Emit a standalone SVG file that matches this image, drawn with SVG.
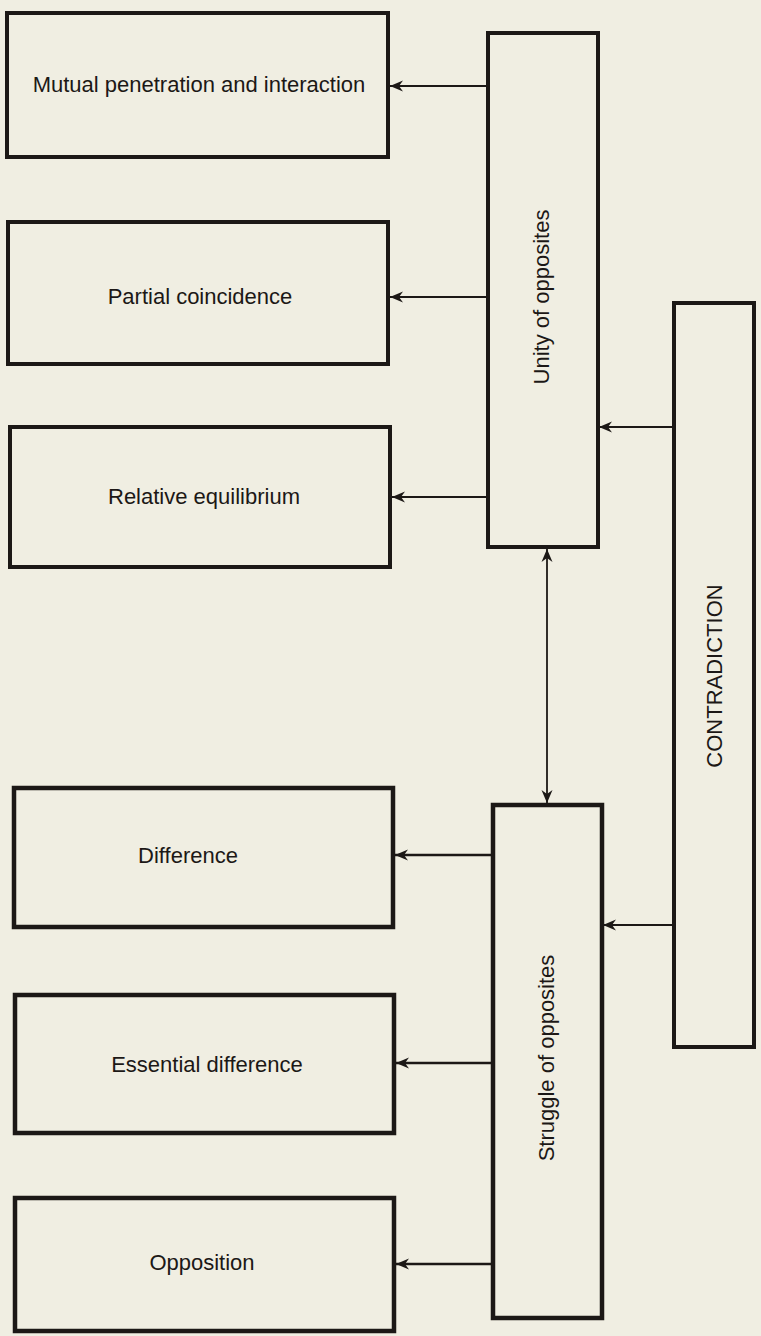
<svg xmlns="http://www.w3.org/2000/svg" width="761" height="1336" viewBox="0 0 761 1336">
<style>
.bg{fill:#f0eee2}
.box{fill:#f0eee2;stroke:#1c1816;stroke-width:4}
.boxb{fill:#f0eee2;stroke:#1c1816;stroke-width:4.5}
.lbl{font-family:"Liberation Sans",Arial,sans-serif;font-size:22px;fill:#1c1816;text-anchor:middle}
.ln{stroke:#1c1816;stroke-width:1.8;fill:none}
.lnb{stroke:#1c1816;stroke-width:2.6;fill:none}
</style>
<defs>
<marker id="ah" markerUnits="userSpaceOnUse" markerWidth="14" markerHeight="12" refX="13" refY="6" orient="auto-start-reverse" viewBox="0 0 14 12">
<path d="M13,6 L0,0.5 L4,6 L0,11.5 Z" fill="#1c1816"/>
</marker>
</defs>
<rect class="bg" x="0" y="0" width="761" height="1336"/>

<g id="connectors">
<line class="ln" x1="487" y1="86" x2="390" y2="86" marker-end="url(#ah)"/>
<line class="ln" x1="488" y1="297" x2="390" y2="297" marker-end="url(#ah)"/>
<line class="ln" x1="488" y1="497" x2="392" y2="497" marker-end="url(#ah)"/>
<line class="ln" x1="673" y1="427" x2="599" y2="427" marker-end="url(#ah)"/>
<line class="ln" x1="675" y1="925" x2="603" y2="925" marker-end="url(#ah)"/>
<line class="ln" x1="547" y1="549" x2="547" y2="803" marker-start="url(#ah)" marker-end="url(#ah)"/>
<line class="lnb" x1="493" y1="855" x2="395" y2="855" marker-end="url(#ah)"/>
<line class="lnb" x1="494" y1="1063" x2="396" y2="1063" marker-end="url(#ah)"/>
<line class="lnb" x1="495" y1="1264" x2="396" y2="1264" marker-end="url(#ah)"/>
</g>

<g id="mutual">
<rect class="box" x="7" y="13" width="381" height="144"/>
<text class="lbl" x="199" y="92">Mutual penetration and interaction</text>
</g>
<g id="partial">
<rect class="box" x="8" y="222" width="380" height="142"/>
<text class="lbl" x="200" y="304">Partial coincidence</text>
</g>
<g id="relative">
<rect class="box" x="10" y="427" width="380" height="140"/>
<text class="lbl" x="204" y="504">Relative equilibrium</text>
</g>
<g id="unity">
<rect class="box" x="488" y="33" width="110" height="514"/>
<text class="lbl" transform="translate(549,297) rotate(-90)">Unity of opposites</text>
</g>
<g id="contradiction">
<rect class="box" x="674" y="303" width="80" height="744"/>
<text class="lbl" transform="translate(722,676) rotate(-90)">CONTRADICTION</text>
</g>
<g id="struggle">
<rect class="boxb" x="493" y="805" width="109" height="513"/>
<text class="lbl" transform="translate(554,1058) rotate(-90)">Struggle of opposites</text>
</g>
<g id="difference">
<rect class="boxb" x="14" y="788" width="379" height="139"/>
<text class="lbl" x="188" y="863">Difference</text>
</g>
<g id="essential">
<rect class="boxb" x="15" y="995" width="379" height="138"/>
<text class="lbl" x="207" y="1072">Essential difference</text>
</g>
<g id="opposition">
<rect class="boxb" x="15" y="1198" width="379" height="133"/>
<text class="lbl" x="202" y="1270">Opposition</text>
</g>
</svg>
